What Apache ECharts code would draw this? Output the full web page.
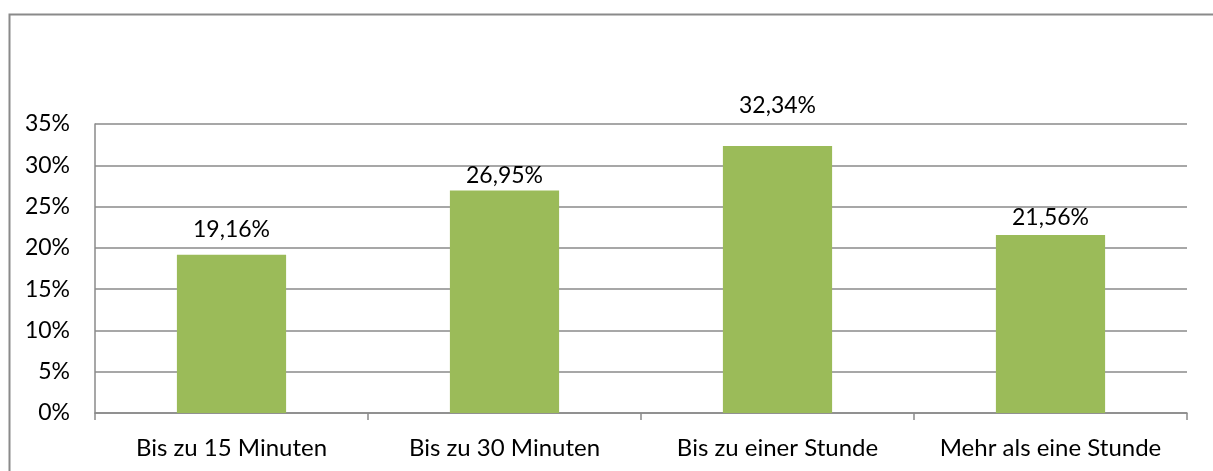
<!DOCTYPE html>
<html><head><meta charset="utf-8">
<script src="https://cdn.jsdelivr.net/npm/echarts@6/dist/echarts.min.js"></script>
<style>html,body{margin:0;padding:0;background:#fff}#c{width:1213px;height:471px}</style>
</head><body><div id="c"></div>
<script>
const categories = ["Bis zu 15 Minuten", "Bis zu 30 Minuten", "Bis zu einer Stunde", "Mehr als eine Stunde"];
const values = [19.16, 26.95, 32.34, 21.56];
const yTicks = [0, 5, 10, 15, 20, 25, 30, 35];

// label placement (style only, as in the original where labels were moved by hand)
const labelDistance = [14, 3, 29, 6];

const chart = echarts.init(document.getElementById('c'), null, {renderer: 'canvas'});
const font = 'Lato, "Open Sans", sans-serif';
const fs = 23;
chart.setOption({
  animation: false,
  grid: {left: 95, right: 26, top: 124, bottom: 58, containLabel: false},
  graphic: [{
    type: 'rect', left: 7, top: 12, silent: true,
    shape: {width: 1400, height: 700},
    style: {fill: 'none', stroke: '#8a8a8a', lineWidth: 2}
  }],
  xAxis: {
    type: 'category', data: categories,
    axisLine: {lineStyle: {color: '#8a8a8a', width: 1.5}},
    axisTick: {show: true, interval: 0, alignWithLabel: false, length: 7, inside: false, lineStyle: {color: '#8a8a8a', width: 1.5}},
    axisLabel: {interval: 0, hideOverlap: false, color: '#000', fontFamily: font, fontSize: 24, margin: 23}
  },
  yAxis: {
    type: 'value', min: 0, max: 35, interval: 5,
    axisLine: {show: true, lineStyle: {color: '#8a8a8a', width: 1.5}},
    axisTick: {show: false},
    splitLine: {lineStyle: {color: '#8a8a8a', width: 1.5}},
    axisLabel: {color: '#000', fontFamily: font, fontSize: fs, margin: 25,
      formatter: v => yTicks.includes(v) ? v + '%' : ''}
  },
  series: [{
    type: 'bar', barWidth: '40%',
    data: values.map((v, i) => ({value: v, label: {distance: labelDistance[i]}})),
    itemStyle: {color: '#9BBB59'},
    label: {show: true, position: 'top', distance: 15, color: '#000', fontFamily: font, fontSize: fs,
      formatter: p => p.value.toFixed(2).replace('.', ',') + '%'}
  }]
});
</script></body></html>
